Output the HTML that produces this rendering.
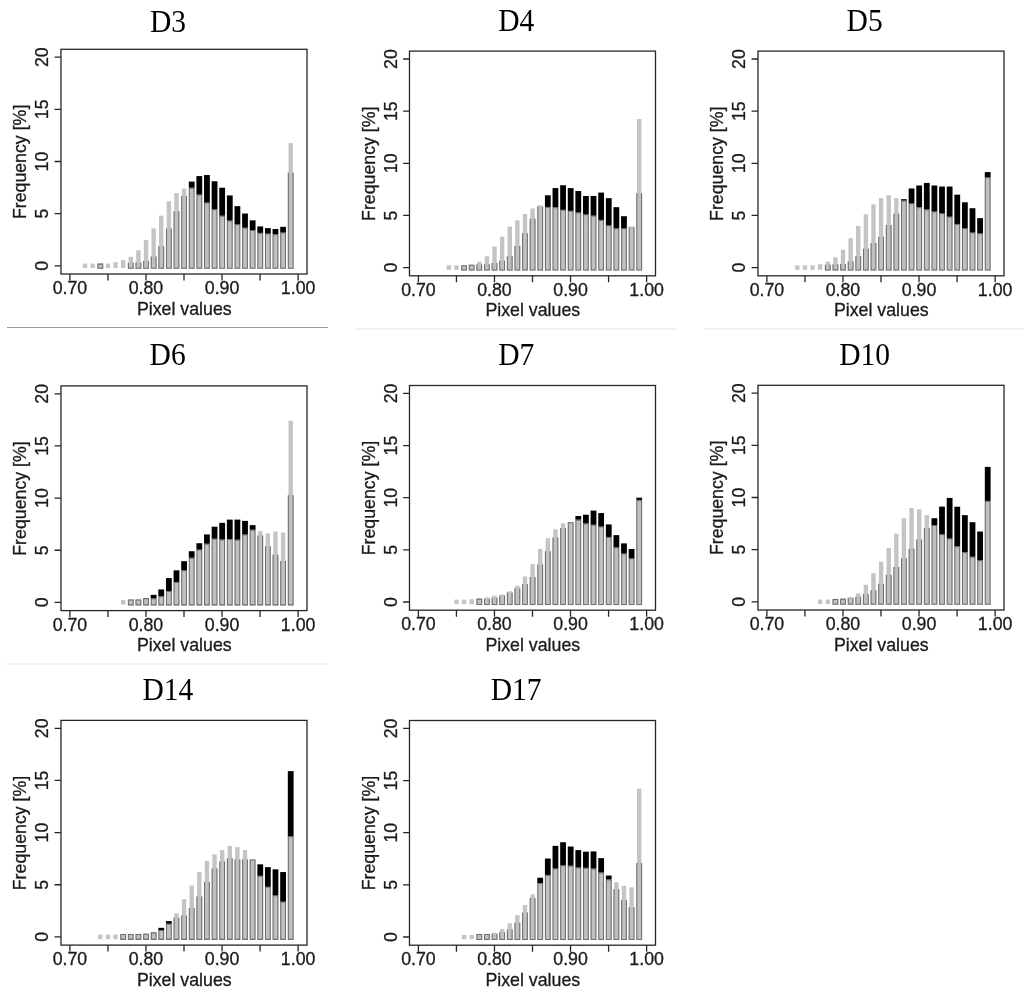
<!DOCTYPE html>
<html lang="en"><head><meta charset="utf-8"><title>Pixel value histograms</title>
<style>html,body{margin:0;padding:0;background:#fff}body{width:1024px;height:1007px;overflow:hidden}svg{display:block}.s{font-family:"Liberation Sans",sans-serif;font-size:17.75px;fill:#1a1a1a;stroke:#1a1a1a;stroke-width:0.3}.t{font-family:"Liberation Serif",serif;font-size:29.5px;fill:#000}.l{stroke:#262626;stroke-width:1.3;fill:none}.a{fill:#c4c4c4}.g{fill:#c0c0c0}.o{fill:none;stroke:#707070;stroke-width:1.05}.k{fill:#000}</style></head><body>
<svg width="1024" height="1007" viewBox="0 0 1024 1007">
<rect width="1024" height="1007" fill="#fff"/>
<line x1="7" y1="327.5" x2="328" y2="327.5" stroke="#9a9a9a" stroke-width="1"/>
<line x1="355" y1="329" x2="677" y2="329" stroke="#e4e4e4" stroke-width="1"/>
<line x1="704" y1="329" x2="1024" y2="329" stroke="#e4e4e4" stroke-width="1"/>
<line x1="7" y1="664" x2="328" y2="664" stroke="#e4e4e4" stroke-width="1"/>
<g transform="translate(0,0)">
<g class="a"><rect x="82.9" y="263.61" width="4.4" height="4.39"/><rect x="90.51" y="263.61" width="4.4" height="4.39"/><rect x="98.13" y="263.61" width="4.4" height="4.39"/><rect x="105.74" y="263.61" width="4.4" height="4.39"/><rect x="113.36" y="262.19" width="4.4" height="5.81"/><rect x="120.97" y="259.99" width="4.4" height="8.01"/><rect x="128.59" y="256.76" width="4.4" height="11.24"/><rect x="136.21" y="250.31" width="4.4" height="17.69"/><rect x="143.82" y="239.98" width="4.4" height="28.02"/><rect x="151.44" y="228.36" width="4.4" height="39.64"/><rect x="159.05" y="215.71" width="4.4" height="52.29"/><rect x="166.67" y="201.25" width="4.4" height="66.75"/><rect x="174.28" y="193.12" width="4.4" height="74.88"/><rect x="181.9" y="188.6" width="4.4" height="79.4"/><rect x="189.51" y="187.7" width="4.4" height="80.3"/><rect x="197.12" y="194.54" width="4.4" height="73.46"/><rect x="204.74" y="202.54" width="4.4" height="65.46"/><rect x="212.36" y="209.25" width="4.4" height="58.75"/><rect x="219.97" y="215.71" width="4.4" height="52.29"/><rect x="227.59" y="220.36" width="4.4" height="47.64"/><rect x="235.2" y="224.23" width="4.4" height="43.77"/><rect x="242.81" y="227.72" width="4.4" height="40.28"/><rect x="250.43" y="230.04" width="4.4" height="37.96"/><rect x="258.05" y="232.88" width="4.4" height="35.12"/><rect x="265.66" y="233.53" width="4.4" height="34.47"/><rect x="273.28" y="234.17" width="4.4" height="33.83"/><rect x="280.89" y="232.49" width="4.4" height="35.51"/><rect x="288.51" y="143.1" width="4.4" height="124.9"/></g>
<g class="g"><rect x="97.43" y="263.61" width="5.8" height="5.19"/><rect x="127.89" y="262.83" width="5.8" height="5.97"/><rect x="135.5" y="262.57" width="5.8" height="6.23"/><rect x="143.12" y="260.89" width="5.8" height="7.91"/><rect x="150.73" y="256.5" width="5.8" height="12.3"/><rect x="158.35" y="246.18" width="5.8" height="22.62"/><rect x="165.97" y="228.62" width="5.8" height="40.18"/><rect x="173.58" y="211.19" width="5.8" height="57.61"/><rect x="181.19" y="196.09" width="5.8" height="72.71"/><rect x="188.81" y="187.7" width="5.8" height="81.1"/><rect x="196.42" y="194.54" width="5.8" height="74.26"/><rect x="204.04" y="202.54" width="5.8" height="66.26"/><rect x="211.66" y="209.25" width="5.8" height="59.55"/><rect x="219.27" y="215.71" width="5.8" height="53.09"/><rect x="226.88" y="220.36" width="5.8" height="48.44"/><rect x="234.5" y="224.23" width="5.8" height="44.57"/><rect x="242.11" y="227.72" width="5.8" height="41.08"/><rect x="249.73" y="230.04" width="5.8" height="38.76"/><rect x="257.35" y="232.88" width="5.8" height="35.92"/><rect x="264.96" y="233.53" width="5.8" height="35.27"/><rect x="272.58" y="234.17" width="5.8" height="34.63"/><rect x="280.19" y="232.49" width="5.8" height="36.31"/><rect x="287.81" y="172.85" width="5.8" height="95.95"/></g>
<path class="o" d="M97.95 264.13V268.28H102.7V264.13zM128.41 262.83V268.28H133.16V262.83M136.03 262.57V268.28H140.78V262.57M143.64 260.89V268.28H148.39V260.89M151.26 256.5V268.28H156.01V256.5M158.88 246.18V268.28H163.62V246.18M166.49 228.62V268.28H171.24V228.62M174.1 211.19V268.28H178.85V211.19M181.72 196.09V268.28H186.47V196.09M189.33 188.22V268.28H194.08V188.22zM196.95 195.06V268.28H201.7V195.06zM204.56 203.07V268.28H209.31V203.07zM212.18 209.78V268.28H216.93V209.78zM219.79 216.23V268.28H224.54V216.23zM227.41 220.88V268.28H232.16V220.88zM235.03 224.76V268.28H239.78V224.76zM242.64 228.24V268.28H247.39V228.24zM250.25 230.56V268.28H255V230.56zM257.87 233.4V268.28H262.62V233.4zM265.49 234.05V268.28H270.24V234.05zM273.1 234.7V268.28H277.85V234.7zM280.72 233.02V268.28H285.47V233.02zM288.33 172.85V268.28H293.08V172.85"/>
<g class="k"><rect x="188.81" y="181.63" width="5.8" height="6.07"/><rect x="196.42" y="176.08" width="5.8" height="18.46"/><rect x="204.04" y="175.04" width="5.8" height="27.5"/><rect x="211.66" y="181.24" width="5.8" height="28.01"/><rect x="219.27" y="187.7" width="5.8" height="28.01"/><rect x="226.88" y="195.44" width="5.8" height="24.92"/><rect x="234.5" y="206.16" width="5.8" height="18.07"/><rect x="242.11" y="213.51" width="5.8" height="14.2"/><rect x="249.73" y="220.36" width="5.8" height="9.68"/><rect x="257.35" y="226.42" width="5.8" height="6.45"/><rect x="264.96" y="228.1" width="5.8" height="5.42"/><rect x="272.58" y="229.01" width="5.8" height="5.16"/><rect x="280.19" y="226.81" width="5.8" height="5.68"/></g>
<rect class="l" x="60.98" y="49.3" width="246.02" height="224.7"/>
<path class="l" d="M69.9 274v6.5M107.94 274v6.5M145.97 274v6.5M184 274v6.5M222.04 274v6.5M260.08 274v6.5M298.11 274v6.5M60.98 265.8h-6.4M60.98 213.65h-6.4M60.98 161.5h-6.4M60.98 109.35h-6.4M60.98 57.2h-6.4"/>
<text class="s" x="69.9" y="294" text-anchor="middle">0.70</text>
<text class="s" x="145.97" y="294" text-anchor="middle">0.80</text>
<text class="s" x="222.04" y="294" text-anchor="middle">0.90</text>
<text class="s" x="298.11" y="294" text-anchor="middle">1.00</text>
<text class="s" transform="translate(48.2,265.8) rotate(-90)" text-anchor="middle">0</text>
<text class="s" transform="translate(48.2,213.65) rotate(-90)" text-anchor="middle">5</text>
<text class="s" transform="translate(48.2,161.5) rotate(-90)" text-anchor="middle">10</text>
<text class="s" transform="translate(48.2,109.35) rotate(-90)" text-anchor="middle">15</text>
<text class="s" transform="translate(48.2,57.2) rotate(-90)" text-anchor="middle">20</text>
<text class="s" x="184.3" y="314.7" text-anchor="middle">Pixel values</text>
<text class="s" transform="translate(26.2,161.9) rotate(-90)" text-anchor="middle">Frequency [%]</text>
</g>
<g transform="translate(348.5,1.8)">
<g class="a"><rect x="98.13" y="263.48" width="4.4" height="4.52"/><rect x="105.74" y="263.48" width="4.4" height="4.52"/><rect x="113.36" y="263.48" width="4.4" height="4.52"/><rect x="120.97" y="262.96" width="4.4" height="5.04"/><rect x="128.59" y="259.86" width="4.4" height="8.14"/><rect x="136.21" y="254.44" width="4.4" height="13.56"/><rect x="143.82" y="244.76" width="4.4" height="23.24"/><rect x="151.44" y="234.82" width="4.4" height="33.18"/><rect x="159.05" y="224.75" width="4.4" height="43.25"/><rect x="166.67" y="218.55" width="4.4" height="49.45"/><rect x="174.28" y="212.22" width="4.4" height="55.78"/><rect x="181.9" y="206.67" width="4.4" height="61.33"/><rect x="189.51" y="203.45" width="4.4" height="64.55"/><rect x="197.12" y="205.12" width="4.4" height="62.88"/><rect x="204.74" y="205.38" width="4.4" height="62.62"/><rect x="212.36" y="207.96" width="4.4" height="60.04"/><rect x="219.97" y="209" width="4.4" height="59"/><rect x="227.59" y="210.55" width="4.4" height="57.45"/><rect x="235.2" y="212.48" width="4.4" height="55.52"/><rect x="242.81" y="213.77" width="4.4" height="54.23"/><rect x="250.43" y="218.03" width="4.4" height="49.97"/><rect x="258.05" y="223.46" width="4.4" height="44.54"/><rect x="265.66" y="226.42" width="4.4" height="41.58"/><rect x="273.28" y="226.42" width="4.4" height="41.58"/><rect x="280.89" y="224.62" width="4.4" height="43.38"/><rect x="288.51" y="117.2" width="4.4" height="150.8"/></g>
<g class="g"><rect x="112.66" y="263.48" width="5.8" height="5.32"/><rect x="120.27" y="262.96" width="5.8" height="5.84"/><rect x="127.89" y="262.57" width="5.8" height="6.23"/><rect x="135.5" y="262.44" width="5.8" height="6.36"/><rect x="143.12" y="261.28" width="5.8" height="7.52"/><rect x="150.73" y="258.96" width="5.8" height="9.84"/><rect x="158.35" y="254.44" width="5.8" height="14.36"/><rect x="165.97" y="244.11" width="5.8" height="24.69"/><rect x="173.58" y="231.46" width="5.8" height="37.34"/><rect x="181.19" y="217" width="5.8" height="51.8"/><rect x="188.81" y="204.74" width="5.8" height="64.06"/><rect x="196.42" y="205.12" width="5.8" height="63.68"/><rect x="204.04" y="205.38" width="5.8" height="63.42"/><rect x="211.66" y="207.96" width="5.8" height="60.84"/><rect x="219.27" y="209" width="5.8" height="59.8"/><rect x="226.88" y="210.55" width="5.8" height="58.25"/><rect x="234.5" y="212.48" width="5.8" height="56.32"/><rect x="242.11" y="213.77" width="5.8" height="55.03"/><rect x="249.73" y="218.03" width="5.8" height="50.77"/><rect x="257.35" y="223.46" width="5.8" height="45.34"/><rect x="264.96" y="226.42" width="5.8" height="42.38"/><rect x="272.58" y="226.42" width="5.8" height="42.38"/><rect x="280.19" y="225.39" width="5.8" height="43.41"/><rect x="287.81" y="191.4" width="5.8" height="77.4"/></g>
<path class="o" d="M113.19 264V268.28H117.94V264zM120.8 263.48V268.28H125.55V263.48zM128.41 262.57V268.28H133.16V262.57M136.03 262.44V268.28H140.78V262.44M143.64 261.28V268.28H148.39V261.28M151.26 258.96V268.28H156.01V258.96M158.88 254.44V268.28H163.62V254.44M166.49 244.11V268.28H171.24V244.11M174.1 231.46V268.28H178.85V231.46M181.72 217V268.28H186.47V217M189.33 204.74V268.28H194.08V204.74M196.95 205.65V268.28H201.7V205.65zM204.56 205.91V268.28H209.31V205.91zM212.18 208.49V268.28H216.93V208.49zM219.79 209.52V268.28H224.54V209.52zM227.41 211.07V268.28H232.16V211.07zM235.03 213.01V268.28H239.78V213.01zM242.64 214.3V268.28H247.39V214.3zM250.25 218.56V268.28H255V218.56zM257.87 223.98V268.28H262.62V223.98zM265.49 226.95V268.28H270.24V226.95zM273.1 226.95V268.28H277.85V226.95zM280.72 225.39V268.28H285.47V225.39M288.33 191.4V268.28H293.08V191.4"/>
<g class="k"><rect x="196.42" y="193.5" width="5.8" height="11.62"/><rect x="204.04" y="186.28" width="5.8" height="19.11"/><rect x="211.66" y="183.43" width="5.8" height="24.53"/><rect x="219.27" y="186.28" width="5.8" height="22.72"/><rect x="226.88" y="189.24" width="5.8" height="21.3"/><rect x="234.5" y="194.15" width="5.8" height="18.33"/><rect x="242.11" y="194.15" width="5.8" height="19.62"/><rect x="249.73" y="190.79" width="5.8" height="27.24"/><rect x="257.35" y="196.34" width="5.8" height="27.11"/><rect x="264.96" y="205.38" width="5.8" height="21.04"/><rect x="272.58" y="214.42" width="5.8" height="12.01"/></g>
<rect class="l" x="60.98" y="49.3" width="246.02" height="224.7"/>
<path class="l" d="M69.9 274v6.5M107.94 274v6.5M145.97 274v6.5M184 274v6.5M222.04 274v6.5M260.08 274v6.5M298.11 274v6.5M60.98 265.8h-6.4M60.98 213.65h-6.4M60.98 161.5h-6.4M60.98 109.35h-6.4M60.98 57.2h-6.4"/>
<text class="s" x="69.9" y="294" text-anchor="middle">0.70</text>
<text class="s" x="145.97" y="294" text-anchor="middle">0.80</text>
<text class="s" x="222.04" y="294" text-anchor="middle">0.90</text>
<text class="s" x="298.11" y="294" text-anchor="middle">1.00</text>
<text class="s" transform="translate(48.2,265.8) rotate(-90)" text-anchor="middle">0</text>
<text class="s" transform="translate(48.2,213.65) rotate(-90)" text-anchor="middle">5</text>
<text class="s" transform="translate(48.2,161.5) rotate(-90)" text-anchor="middle">10</text>
<text class="s" transform="translate(48.2,109.35) rotate(-90)" text-anchor="middle">15</text>
<text class="s" transform="translate(48.2,57.2) rotate(-90)" text-anchor="middle">20</text>
<text class="s" x="184.3" y="314.7" text-anchor="middle">Pixel values</text>
<text class="s" transform="translate(26.2,161.9) rotate(-90)" text-anchor="middle">Frequency [%]</text>
</g>
<g transform="translate(697,1.8)">
<g class="a"><rect x="98.13" y="263.48" width="4.4" height="4.52"/><rect x="105.74" y="263.48" width="4.4" height="4.52"/><rect x="113.36" y="263.48" width="4.4" height="4.52"/><rect x="120.97" y="262.44" width="4.4" height="5.56"/><rect x="128.59" y="259.86" width="4.4" height="8.14"/><rect x="136.21" y="255.47" width="4.4" height="12.53"/><rect x="143.82" y="247.98" width="4.4" height="20.02"/><rect x="151.44" y="236.37" width="4.4" height="31.63"/><rect x="159.05" y="224.1" width="4.4" height="43.9"/><rect x="166.67" y="212.48" width="4.4" height="55.52"/><rect x="174.28" y="202.54" width="4.4" height="65.46"/><rect x="181.9" y="196.34" width="4.4" height="71.66"/><rect x="189.51" y="193.5" width="4.4" height="74.5"/><rect x="197.12" y="196.34" width="4.4" height="71.66"/><rect x="204.74" y="198.67" width="4.4" height="69.33"/><rect x="212.36" y="201.51" width="4.4" height="66.49"/><rect x="219.97" y="205.38" width="4.4" height="62.62"/><rect x="227.59" y="207.58" width="4.4" height="60.42"/><rect x="235.2" y="209.64" width="4.4" height="58.36"/><rect x="242.81" y="211.45" width="4.4" height="56.55"/><rect x="250.43" y="214.81" width="4.4" height="53.19"/><rect x="258.05" y="222.16" width="4.4" height="45.84"/><rect x="265.66" y="226.42" width="4.4" height="41.58"/><rect x="273.28" y="230.56" width="4.4" height="37.44"/><rect x="280.89" y="231.46" width="4.4" height="36.54"/><rect x="288.51" y="175.43" width="4.4" height="92.57"/></g>
<g class="g"><rect x="127.89" y="262.83" width="5.8" height="5.97"/><rect x="135.5" y="262.57" width="5.8" height="6.23"/><rect x="143.12" y="262.19" width="5.8" height="6.61"/><rect x="150.73" y="259.6" width="5.8" height="9.2"/><rect x="158.35" y="254.44" width="5.8" height="14.36"/><rect x="165.97" y="246.95" width="5.8" height="21.85"/><rect x="173.58" y="241.27" width="5.8" height="27.53"/><rect x="181.19" y="235.07" width="5.8" height="33.73"/><rect x="188.81" y="223.2" width="5.8" height="45.6"/><rect x="196.42" y="211.84" width="5.8" height="56.96"/><rect x="204.04" y="198.67" width="5.8" height="70.13"/><rect x="211.66" y="201.51" width="5.8" height="67.29"/><rect x="219.27" y="205.38" width="5.8" height="63.42"/><rect x="226.88" y="207.58" width="5.8" height="61.22"/><rect x="234.5" y="209.64" width="5.8" height="59.16"/><rect x="242.11" y="211.45" width="5.8" height="57.35"/><rect x="249.73" y="214.81" width="5.8" height="53.99"/><rect x="257.35" y="222.16" width="5.8" height="46.64"/><rect x="264.96" y="226.42" width="5.8" height="42.38"/><rect x="272.58" y="230.56" width="5.8" height="38.24"/><rect x="280.19" y="231.46" width="5.8" height="37.34"/><rect x="287.81" y="175.43" width="5.8" height="93.37"/></g>
<path class="o" d="M128.41 262.83V268.28H133.16V262.83M136.03 262.57V268.28H140.78V262.57M143.64 262.19V268.28H148.39V262.19M151.26 259.6V268.28H156.01V259.6M158.88 254.44V268.28H163.62V254.44M166.49 246.95V268.28H171.24V246.95M174.1 241.27V268.28H178.85V241.27M181.72 235.07V268.28H186.47V235.07M189.33 223.2V268.28H194.08V223.2M196.95 211.84V268.28H201.7V211.84M204.56 199.19V268.28H209.31V199.19zM212.18 202.03V268.28H216.93V202.03zM219.79 205.91V268.28H224.54V205.91zM227.41 208.1V268.28H232.16V208.1zM235.03 210.17V268.28H239.78V210.17zM242.64 211.97V268.28H247.39V211.97zM250.25 215.33V268.28H255V215.33zM257.87 222.69V268.28H262.62V222.69zM265.49 226.95V268.28H270.24V226.95zM273.1 231.08V268.28H277.85V231.08zM280.72 231.98V268.28H285.47V231.98zM288.33 175.96V268.28H293.08V175.96z"/>
<g class="k"><rect x="204.04" y="197.38" width="5.8" height="1.29"/><rect x="211.66" y="186.66" width="5.8" height="14.85"/><rect x="219.27" y="183.69" width="5.8" height="21.69"/><rect x="226.88" y="181.11" width="5.8" height="26.47"/><rect x="234.5" y="183.69" width="5.8" height="25.95"/><rect x="242.11" y="184.73" width="5.8" height="26.72"/><rect x="249.73" y="184.73" width="5.8" height="30.08"/><rect x="257.35" y="192.86" width="5.8" height="29.31"/><rect x="264.96" y="200.48" width="5.8" height="25.95"/><rect x="272.58" y="206.41" width="5.8" height="24.14"/><rect x="280.19" y="216.36" width="5.8" height="15.1"/><rect x="287.81" y="170.27" width="5.8" height="5.16"/></g>
<rect class="l" x="60.98" y="49.3" width="246.02" height="224.7"/>
<path class="l" d="M69.9 274v6.5M107.94 274v6.5M145.97 274v6.5M184 274v6.5M222.04 274v6.5M260.08 274v6.5M298.11 274v6.5M60.98 265.8h-6.4M60.98 213.65h-6.4M60.98 161.5h-6.4M60.98 109.35h-6.4M60.98 57.2h-6.4"/>
<text class="s" x="69.9" y="294" text-anchor="middle">0.70</text>
<text class="s" x="145.97" y="294" text-anchor="middle">0.80</text>
<text class="s" x="222.04" y="294" text-anchor="middle">0.90</text>
<text class="s" x="298.11" y="294" text-anchor="middle">1.00</text>
<text class="s" transform="translate(48.2,265.8) rotate(-90)" text-anchor="middle">0</text>
<text class="s" transform="translate(48.2,213.65) rotate(-90)" text-anchor="middle">5</text>
<text class="s" transform="translate(48.2,161.5) rotate(-90)" text-anchor="middle">10</text>
<text class="s" transform="translate(48.2,109.35) rotate(-90)" text-anchor="middle">15</text>
<text class="s" transform="translate(48.2,57.2) rotate(-90)" text-anchor="middle">20</text>
<text class="s" x="184.3" y="314.7" text-anchor="middle">Pixel values</text>
<text class="s" transform="translate(26.2,161.9) rotate(-90)" text-anchor="middle">Frequency [%]</text>
</g>
<g transform="translate(0,336.6)">
<g class="a"><rect x="120.97" y="263.42" width="4.4" height="4.58"/><rect x="128.59" y="262.78" width="4.4" height="5.22"/><rect x="136.21" y="262.78" width="4.4" height="5.22"/><rect x="143.82" y="261.49" width="4.4" height="6.51"/><rect x="151.44" y="261.49" width="4.4" height="6.51"/><rect x="159.05" y="259.55" width="4.4" height="8.45"/><rect x="166.67" y="254.39" width="4.4" height="13.61"/><rect x="174.28" y="245.35" width="4.4" height="22.65"/><rect x="181.9" y="233.6" width="4.4" height="34.4"/><rect x="189.51" y="221.08" width="4.4" height="46.92"/><rect x="197.12" y="212.95" width="4.4" height="55.05"/><rect x="204.74" y="207.14" width="4.4" height="60.86"/><rect x="212.36" y="201.97" width="4.4" height="66.03"/><rect x="219.97" y="202.75" width="4.4" height="65.25"/><rect x="227.59" y="202.36" width="4.4" height="65.64"/><rect x="235.2" y="203.01" width="4.4" height="64.99"/><rect x="242.81" y="197.84" width="4.4" height="70.16"/><rect x="250.43" y="193.07" width="4.4" height="74.93"/><rect x="258.05" y="194.36" width="4.4" height="73.64"/><rect x="265.66" y="196.81" width="4.4" height="71.19"/><rect x="273.28" y="195" width="4.4" height="73"/><rect x="280.89" y="195.91" width="4.4" height="72.09"/><rect x="288.51" y="84.1" width="4.4" height="183.9"/></g>
<g class="g"><rect x="127.89" y="262.78" width="5.8" height="6.02"/><rect x="135.5" y="262.78" width="5.8" height="6.02"/><rect x="143.12" y="261.49" width="5.8" height="7.31"/><rect x="150.73" y="261.49" width="5.8" height="7.31"/><rect x="158.35" y="259.55" width="5.8" height="9.25"/><rect x="165.97" y="254.39" width="5.8" height="14.41"/><rect x="173.58" y="245.35" width="5.8" height="23.45"/><rect x="181.19" y="233.6" width="5.8" height="35.2"/><rect x="188.81" y="221.08" width="5.8" height="47.72"/><rect x="196.42" y="212.95" width="5.8" height="55.85"/><rect x="204.04" y="207.14" width="5.8" height="61.66"/><rect x="211.66" y="201.97" width="5.8" height="66.83"/><rect x="219.27" y="202.75" width="5.8" height="66.05"/><rect x="226.88" y="202.36" width="5.8" height="66.44"/><rect x="234.5" y="203.01" width="5.8" height="65.79"/><rect x="242.11" y="197.84" width="5.8" height="70.96"/><rect x="249.73" y="193.07" width="5.8" height="75.73"/><rect x="257.35" y="198.88" width="5.8" height="69.92"/><rect x="264.96" y="209.72" width="5.8" height="59.08"/><rect x="272.58" y="218.24" width="5.8" height="50.56"/><rect x="280.19" y="224.31" width="5.8" height="44.49"/><rect x="287.81" y="158.6" width="5.8" height="110.2"/></g>
<path class="o" d="M128.41 263.3V268.28H133.16V263.3zM136.03 263.3V268.28H140.78V263.3zM143.64 262.01V268.28H148.39V262.01zM151.26 262.01V268.28H156.01V262.01zM158.88 260.08V268.28H163.62V260.08zM166.49 254.91V268.28H171.24V254.91zM174.1 245.88V268.28H178.85V245.88zM181.72 234.13V268.28H186.47V234.13zM189.33 221.61V268.28H194.08V221.61zM196.95 213.47V268.28H201.7V213.47zM204.56 207.66V268.28H209.31V207.66zM212.18 202.5V268.28H216.93V202.5zM219.79 203.27V268.28H224.54V203.27zM227.41 202.89V268.28H232.16V202.89zM235.03 203.53V268.28H239.78V203.53zM242.64 198.37V268.28H247.39V198.37zM250.25 193.59V268.28H255V193.59zM257.87 198.88V268.28H262.62V198.88M265.49 209.72V268.28H270.24V209.72M273.1 218.24V268.28H277.85V218.24M280.72 224.31V268.28H285.47V224.31M288.33 158.6V268.28H293.08V158.6"/>
<g class="k"><rect x="150.73" y="258.26" width="5.8" height="3.23"/><rect x="158.35" y="252.84" width="5.8" height="6.71"/><rect x="165.97" y="241.48" width="5.8" height="12.91"/><rect x="173.58" y="233.73" width="5.8" height="11.62"/><rect x="181.19" y="224.57" width="5.8" height="9.04"/><rect x="188.81" y="214.63" width="5.8" height="6.45"/><rect x="196.42" y="206.62" width="5.8" height="6.33"/><rect x="204.04" y="197.84" width="5.8" height="9.3"/><rect x="211.66" y="190.1" width="5.8" height="11.88"/><rect x="219.27" y="186.22" width="5.8" height="16.52"/><rect x="226.88" y="183" width="5.8" height="19.36"/><rect x="234.5" y="183" width="5.8" height="20.01"/><rect x="242.11" y="184.29" width="5.8" height="13.56"/><rect x="249.73" y="188.55" width="5.8" height="4.52"/></g>
<rect class="l" x="60.98" y="49.3" width="246.02" height="224.7"/>
<path class="l" d="M69.9 274v6.5M107.94 274v6.5M145.97 274v6.5M184 274v6.5M222.04 274v6.5M260.08 274v6.5M298.11 274v6.5M60.98 265.8h-6.4M60.98 213.65h-6.4M60.98 161.5h-6.4M60.98 109.35h-6.4M60.98 57.2h-6.4"/>
<text class="s" x="69.9" y="294" text-anchor="middle">0.70</text>
<text class="s" x="145.97" y="294" text-anchor="middle">0.80</text>
<text class="s" x="222.04" y="294" text-anchor="middle">0.90</text>
<text class="s" x="298.11" y="294" text-anchor="middle">1.00</text>
<text class="s" transform="translate(48.2,265.8) rotate(-90)" text-anchor="middle">0</text>
<text class="s" transform="translate(48.2,213.65) rotate(-90)" text-anchor="middle">5</text>
<text class="s" transform="translate(48.2,161.5) rotate(-90)" text-anchor="middle">10</text>
<text class="s" transform="translate(48.2,109.35) rotate(-90)" text-anchor="middle">15</text>
<text class="s" transform="translate(48.2,57.2) rotate(-90)" text-anchor="middle">20</text>
<text class="s" x="184.3" y="314.7" text-anchor="middle">Pixel values</text>
<text class="s" transform="translate(26.2,161.9) rotate(-90)" text-anchor="middle">Frequency [%]</text>
</g>
<g transform="translate(348.5,336.2)">
<g class="a"><rect x="105.74" y="263.48" width="4.4" height="4.52"/><rect x="113.36" y="263.48" width="4.4" height="4.52"/><rect x="120.97" y="263.09" width="4.4" height="4.91"/><rect x="128.59" y="262.19" width="4.4" height="5.81"/><rect x="136.21" y="261.15" width="4.4" height="6.85"/><rect x="143.82" y="259.47" width="4.4" height="8.53"/><rect x="151.44" y="258.18" width="4.4" height="9.82"/><rect x="159.05" y="255.08" width="4.4" height="12.92"/><rect x="166.67" y="249.53" width="4.4" height="18.47"/><rect x="174.28" y="240.24" width="4.4" height="27.76"/><rect x="181.9" y="227.97" width="4.4" height="40.03"/><rect x="189.51" y="212.74" width="4.4" height="55.26"/><rect x="197.12" y="202.03" width="4.4" height="65.97"/><rect x="204.74" y="193.12" width="4.4" height="74.88"/><rect x="212.36" y="186.92" width="4.4" height="81.08"/><rect x="219.97" y="186.02" width="4.4" height="81.98"/><rect x="227.59" y="183.43" width="4.4" height="84.57"/><rect x="235.2" y="187.18" width="4.4" height="80.82"/><rect x="242.81" y="188.47" width="4.4" height="79.53"/><rect x="250.43" y="190.15" width="4.4" height="77.85"/><rect x="258.05" y="200.73" width="4.4" height="67.27"/><rect x="265.66" y="211.06" width="4.4" height="56.94"/><rect x="273.28" y="217.26" width="4.4" height="50.74"/><rect x="280.89" y="222.04" width="4.4" height="45.96"/><rect x="288.51" y="163.68" width="4.4" height="104.32"/></g>
<g class="g"><rect x="127.89" y="262.44" width="5.8" height="6.36"/><rect x="135.5" y="262.44" width="5.8" height="6.36"/><rect x="143.12" y="261.54" width="5.8" height="7.26"/><rect x="150.73" y="259.22" width="5.8" height="9.58"/><rect x="158.35" y="256.38" width="5.8" height="12.42"/><rect x="165.97" y="252.12" width="5.8" height="16.68"/><rect x="173.58" y="247.86" width="5.8" height="20.94"/><rect x="181.19" y="240.88" width="5.8" height="27.92"/><rect x="188.81" y="228.23" width="5.8" height="40.57"/><rect x="196.42" y="215.06" width="5.8" height="53.74"/><rect x="204.04" y="201.38" width="5.8" height="67.42"/><rect x="211.66" y="191.83" width="5.8" height="76.97"/><rect x="219.27" y="186.02" width="5.8" height="82.78"/><rect x="226.88" y="183.43" width="5.8" height="85.37"/><rect x="234.5" y="187.18" width="5.8" height="81.62"/><rect x="242.11" y="188.47" width="5.8" height="80.33"/><rect x="249.73" y="190.15" width="5.8" height="78.65"/><rect x="257.35" y="200.73" width="5.8" height="68.07"/><rect x="264.96" y="211.06" width="5.8" height="57.74"/><rect x="272.58" y="217.26" width="5.8" height="51.54"/><rect x="280.19" y="222.04" width="5.8" height="46.76"/><rect x="287.81" y="163.68" width="5.8" height="105.12"/></g>
<path class="o" d="M128.41 262.97V268.28H133.16V262.97zM136.03 262.44V268.28H140.78V262.44M143.64 261.54V268.28H148.39V261.54M151.26 259.22V268.28H156.01V259.22M158.88 256.38V268.28H163.62V256.38M166.49 252.12V268.28H171.24V252.12M174.1 247.86V268.28H178.85V247.86M181.72 240.88V268.28H186.47V240.88M189.33 228.23V268.28H194.08V228.23M196.95 215.06V268.28H201.7V215.06M204.56 201.38V268.28H209.31V201.38M212.18 191.83V268.28H216.93V191.83M219.79 186.54V268.28H224.54V186.54zM227.41 183.96V268.28H232.16V183.96zM235.03 187.7V268.28H239.78V187.7zM242.64 188.99V268.28H247.39V188.99zM250.25 190.67V268.28H255V190.67zM257.87 201.26V268.28H262.62V201.26zM265.49 211.59V268.28H270.24V211.59zM273.1 217.78V268.28H277.85V217.78zM280.72 222.56V268.28H285.47V222.56zM288.33 164.21V268.28H293.08V164.21z"/>
<g class="k"><rect x="226.88" y="179.82" width="5.8" height="3.61"/><rect x="234.5" y="178.53" width="5.8" height="8.65"/><rect x="242.11" y="174.4" width="5.8" height="14.07"/><rect x="249.73" y="176.85" width="5.8" height="13.3"/><rect x="257.35" y="188.21" width="5.8" height="12.52"/><rect x="264.96" y="198.93" width="5.8" height="12.14"/><rect x="272.58" y="207.19" width="5.8" height="10.07"/><rect x="280.19" y="212.74" width="5.8" height="9.3"/><rect x="287.81" y="161.49" width="5.8" height="2.19"/></g>
<rect class="l" x="60.98" y="49.3" width="246.02" height="224.7"/>
<path class="l" d="M69.9 274v6.5M107.94 274v6.5M145.97 274v6.5M184 274v6.5M222.04 274v6.5M260.08 274v6.5M298.11 274v6.5M60.98 265.8h-6.4M60.98 213.65h-6.4M60.98 161.5h-6.4M60.98 109.35h-6.4M60.98 57.2h-6.4"/>
<text class="s" x="69.9" y="294" text-anchor="middle">0.70</text>
<text class="s" x="145.97" y="294" text-anchor="middle">0.80</text>
<text class="s" x="222.04" y="294" text-anchor="middle">0.90</text>
<text class="s" x="298.11" y="294" text-anchor="middle">1.00</text>
<text class="s" transform="translate(48.2,265.8) rotate(-90)" text-anchor="middle">0</text>
<text class="s" transform="translate(48.2,213.65) rotate(-90)" text-anchor="middle">5</text>
<text class="s" transform="translate(48.2,161.5) rotate(-90)" text-anchor="middle">10</text>
<text class="s" transform="translate(48.2,109.35) rotate(-90)" text-anchor="middle">15</text>
<text class="s" transform="translate(48.2,57.2) rotate(-90)" text-anchor="middle">20</text>
<text class="s" x="184.3" y="314.7" text-anchor="middle">Pixel values</text>
<text class="s" transform="translate(26.2,161.9) rotate(-90)" text-anchor="middle">Frequency [%]</text>
</g>
<g transform="translate(697,336)">
<g class="a"><rect x="120.97" y="263.54" width="4.4" height="4.46"/><rect x="128.59" y="263.54" width="4.4" height="4.46"/><rect x="136.21" y="262.9" width="4.4" height="5.1"/><rect x="143.82" y="262.38" width="4.4" height="5.62"/><rect x="151.44" y="260.96" width="4.4" height="7.04"/><rect x="159.05" y="257.47" width="4.4" height="10.53"/><rect x="166.67" y="248.82" width="4.4" height="19.18"/><rect x="174.28" y="237.2" width="4.4" height="30.8"/><rect x="181.9" y="225.59" width="4.4" height="42.41"/><rect x="189.51" y="212.03" width="4.4" height="55.97"/><rect x="197.12" y="197.7" width="4.4" height="70.3"/><rect x="204.74" y="182.21" width="4.4" height="85.79"/><rect x="212.36" y="172.01" width="4.4" height="95.99"/><rect x="219.97" y="173.3" width="4.4" height="94.7"/><rect x="227.59" y="179.11" width="4.4" height="88.89"/><rect x="235.2" y="189.05" width="4.4" height="78.95"/><rect x="242.81" y="198.09" width="4.4" height="69.91"/><rect x="250.43" y="202.35" width="4.4" height="65.65"/><rect x="258.05" y="210.09" width="4.4" height="57.91"/><rect x="265.66" y="216.16" width="4.4" height="51.84"/><rect x="273.28" y="220.68" width="4.4" height="47.32"/><rect x="280.89" y="224.17" width="4.4" height="43.83"/><rect x="288.51" y="164.9" width="4.4" height="103.1"/></g>
<g class="g"><rect x="135.5" y="262.9" width="5.8" height="5.9"/><rect x="143.12" y="262.64" width="5.8" height="6.16"/><rect x="150.73" y="261.99" width="5.8" height="6.81"/><rect x="158.35" y="260.7" width="5.8" height="8.1"/><rect x="165.97" y="258.12" width="5.8" height="10.68"/><rect x="173.58" y="254.25" width="5.8" height="14.55"/><rect x="181.19" y="247.79" width="5.8" height="21.01"/><rect x="188.81" y="238.75" width="5.8" height="30.05"/><rect x="196.42" y="231.01" width="5.8" height="37.79"/><rect x="204.04" y="222.23" width="5.8" height="46.57"/><rect x="211.66" y="212.68" width="5.8" height="56.12"/><rect x="219.27" y="203.51" width="5.8" height="65.29"/><rect x="226.88" y="192.28" width="5.8" height="76.52"/><rect x="234.5" y="189.05" width="5.8" height="79.75"/><rect x="242.11" y="198.09" width="5.8" height="70.71"/><rect x="249.73" y="202.35" width="5.8" height="66.45"/><rect x="257.35" y="210.09" width="5.8" height="58.71"/><rect x="264.96" y="216.16" width="5.8" height="52.64"/><rect x="272.58" y="220.68" width="5.8" height="48.12"/><rect x="280.19" y="224.17" width="5.8" height="44.63"/><rect x="287.81" y="164.9" width="5.8" height="103.9"/></g>
<path class="o" d="M136.03 263.42V268.28H140.78V263.42zM143.64 263.16V268.28H148.39V263.16zM151.26 261.99V268.28H156.01V261.99M158.88 260.7V268.28H163.62V260.7M166.49 258.12V268.28H171.24V258.12M174.1 254.25V268.28H178.85V254.25M181.72 247.79V268.28H186.47V247.79M189.33 238.75V268.28H194.08V238.75M196.95 231.01V268.28H201.7V231.01M204.56 222.23V268.28H209.31V222.23M212.18 212.68V268.28H216.93V212.68M219.79 203.51V268.28H224.54V203.51M227.41 192.28V268.28H232.16V192.28M235.03 189.58V268.28H239.78V189.58zM242.64 198.61V268.28H247.39V198.61zM250.25 202.87V268.28H255V202.87zM257.87 210.62V268.28H262.62V210.62zM265.49 216.69V268.28H270.24V216.69zM273.1 221.2V268.28H277.85V221.2zM280.72 224.69V268.28H285.47V224.69zM288.33 165.43V268.28H293.08V165.43z"/>
<g class="k"><rect x="234.5" y="182.21" width="5.8" height="6.84"/><rect x="242.11" y="170.59" width="5.8" height="27.5"/><rect x="249.73" y="161.94" width="5.8" height="40.41"/><rect x="257.35" y="170.72" width="5.8" height="39.38"/><rect x="264.96" y="179.11" width="5.8" height="37.05"/><rect x="272.58" y="186.21" width="5.8" height="34.47"/><rect x="280.19" y="195.51" width="5.8" height="28.66"/><rect x="287.81" y="130.9" width="5.8" height="34"/></g>
<rect class="l" x="60.98" y="49.3" width="246.02" height="224.7"/>
<path class="l" d="M69.9 274v6.5M107.94 274v6.5M145.97 274v6.5M184 274v6.5M222.04 274v6.5M260.08 274v6.5M298.11 274v6.5M60.98 265.8h-6.4M60.98 213.65h-6.4M60.98 161.5h-6.4M60.98 109.35h-6.4M60.98 57.2h-6.4"/>
<text class="s" x="69.9" y="294" text-anchor="middle">0.70</text>
<text class="s" x="145.97" y="294" text-anchor="middle">0.80</text>
<text class="s" x="222.04" y="294" text-anchor="middle">0.90</text>
<text class="s" x="298.11" y="294" text-anchor="middle">1.00</text>
<text class="s" transform="translate(48.2,265.8) rotate(-90)" text-anchor="middle">0</text>
<text class="s" transform="translate(48.2,213.65) rotate(-90)" text-anchor="middle">5</text>
<text class="s" transform="translate(48.2,161.5) rotate(-90)" text-anchor="middle">10</text>
<text class="s" transform="translate(48.2,109.35) rotate(-90)" text-anchor="middle">15</text>
<text class="s" transform="translate(48.2,57.2) rotate(-90)" text-anchor="middle">20</text>
<text class="s" x="184.3" y="314.7" text-anchor="middle">Pixel values</text>
<text class="s" transform="translate(26.2,161.9) rotate(-90)" text-anchor="middle">Frequency [%]</text>
</g>
<g transform="translate(0,671.1)">
<g class="a"><rect x="98.13" y="263.57" width="4.4" height="4.43"/><rect x="105.74" y="263.57" width="4.4" height="4.43"/><rect x="113.36" y="263.57" width="4.4" height="4.43"/><rect x="120.97" y="262.92" width="4.4" height="5.08"/><rect x="128.59" y="262.92" width="4.4" height="5.08"/><rect x="136.21" y="262.79" width="4.4" height="5.21"/><rect x="143.82" y="262.53" width="4.4" height="5.47"/><rect x="151.44" y="261.24" width="4.4" height="6.76"/><rect x="159.05" y="258.92" width="4.4" height="9.08"/><rect x="166.67" y="252.59" width="4.4" height="15.41"/><rect x="174.28" y="242.27" width="4.4" height="25.73"/><rect x="181.9" y="228.06" width="4.4" height="39.94"/><rect x="189.51" y="214.51" width="4.4" height="53.49"/><rect x="197.12" y="200.95" width="4.4" height="67.05"/><rect x="204.74" y="189.85" width="4.4" height="78.15"/><rect x="212.36" y="183.4" width="4.4" height="84.6"/><rect x="219.97" y="179.01" width="4.4" height="88.99"/><rect x="227.59" y="175" width="4.4" height="93"/><rect x="235.2" y="176.04" width="4.4" height="91.96"/><rect x="242.81" y="179.01" width="4.4" height="88.99"/><rect x="250.43" y="188.3" width="4.4" height="79.7"/><rect x="258.05" y="204.7" width="4.4" height="63.3"/><rect x="265.66" y="215.67" width="4.4" height="52.33"/><rect x="273.28" y="224.19" width="4.4" height="43.81"/><rect x="280.89" y="230.52" width="4.4" height="37.48"/><rect x="288.51" y="165.1" width="4.4" height="102.9"/></g>
<g class="g"><rect x="120.27" y="262.92" width="5.8" height="5.88"/><rect x="127.89" y="262.92" width="5.8" height="5.88"/><rect x="135.5" y="262.79" width="5.8" height="6.01"/><rect x="143.12" y="262.53" width="5.8" height="6.27"/><rect x="150.73" y="261.24" width="5.8" height="7.56"/><rect x="158.35" y="258.92" width="5.8" height="9.88"/><rect x="165.97" y="252.59" width="5.8" height="16.21"/><rect x="173.58" y="246.65" width="5.8" height="22.15"/><rect x="181.19" y="244.46" width="5.8" height="24.34"/><rect x="188.81" y="236.97" width="5.8" height="31.83"/><rect x="196.42" y="225.35" width="5.8" height="43.45"/><rect x="204.04" y="210.89" width="5.8" height="57.91"/><rect x="211.66" y="197.34" width="5.8" height="71.46"/><rect x="219.27" y="190.5" width="5.8" height="78.3"/><rect x="226.88" y="187.27" width="5.8" height="81.53"/><rect x="234.5" y="188.3" width="5.8" height="80.5"/><rect x="242.11" y="188.3" width="5.8" height="80.5"/><rect x="249.73" y="188.3" width="5.8" height="80.5"/><rect x="257.35" y="204.7" width="5.8" height="64.1"/><rect x="264.96" y="215.67" width="5.8" height="53.13"/><rect x="272.58" y="224.19" width="5.8" height="44.61"/><rect x="280.19" y="230.52" width="5.8" height="38.28"/><rect x="287.81" y="165.1" width="5.8" height="103.7"/></g>
<path class="o" d="M120.8 263.45V268.28H125.55V263.45zM128.41 263.45V268.28H133.16V263.45zM136.03 263.32V268.28H140.78V263.32zM143.64 263.06V268.28H148.39V263.06zM151.26 261.77V268.28H156.01V261.77zM158.88 259.44V268.28H163.62V259.44zM166.49 253.12V268.28H171.24V253.12zM174.1 246.65V268.28H178.85V246.65M181.72 244.46V268.28H186.47V244.46M189.33 236.97V268.28H194.08V236.97M196.95 225.35V268.28H201.7V225.35M204.56 210.89V268.28H209.31V210.89M212.18 197.34V268.28H216.93V197.34M219.79 190.5V268.28H224.54V190.5M227.41 187.27V268.28H232.16V187.27M235.03 188.3V268.28H239.78V188.3M242.64 188.3V268.28H247.39V188.3M250.25 188.83V268.28H255V188.83zM257.87 205.22V268.28H262.62V205.22zM265.49 216.2V268.28H270.24V216.2zM273.1 224.72V268.28H277.85V224.72zM280.72 231.04V268.28H285.47V231.04zM288.33 165.63V268.28H293.08V165.63z"/>
<g class="k"><rect x="158.35" y="256.72" width="5.8" height="2.19"/><rect x="165.97" y="250.01" width="5.8" height="2.58"/><rect x="257.35" y="193.21" width="5.8" height="11.49"/><rect x="264.96" y="196.05" width="5.8" height="19.62"/><rect x="272.58" y="198.24" width="5.8" height="25.95"/><rect x="280.19" y="200.95" width="5.8" height="29.56"/><rect x="287.81" y="100" width="5.8" height="65.1"/></g>
<rect class="l" x="60.98" y="49.3" width="246.02" height="224.7"/>
<path class="l" d="M69.9 274v6.5M107.94 274v6.5M145.97 274v6.5M184 274v6.5M222.04 274v6.5M260.08 274v6.5M298.11 274v6.5M60.98 265.8h-6.4M60.98 213.65h-6.4M60.98 161.5h-6.4M60.98 109.35h-6.4M60.98 57.2h-6.4"/>
<text class="s" x="69.9" y="294" text-anchor="middle">0.70</text>
<text class="s" x="145.97" y="294" text-anchor="middle">0.80</text>
<text class="s" x="222.04" y="294" text-anchor="middle">0.90</text>
<text class="s" x="298.11" y="294" text-anchor="middle">1.00</text>
<text class="s" transform="translate(48.2,265.8) rotate(-90)" text-anchor="middle">0</text>
<text class="s" transform="translate(48.2,213.65) rotate(-90)" text-anchor="middle">5</text>
<text class="s" transform="translate(48.2,161.5) rotate(-90)" text-anchor="middle">10</text>
<text class="s" transform="translate(48.2,109.35) rotate(-90)" text-anchor="middle">15</text>
<text class="s" transform="translate(48.2,57.2) rotate(-90)" text-anchor="middle">20</text>
<text class="s" x="184.3" y="314.7" text-anchor="middle">Pixel values</text>
<text class="s" transform="translate(26.2,161.9) rotate(-90)" text-anchor="middle">Frequency [%]</text>
</g>
<g transform="translate(348.5,671.2)">
<g class="a"><rect x="113.36" y="263.73" width="4.4" height="4.27"/><rect x="120.97" y="263.73" width="4.4" height="4.27"/><rect x="128.59" y="262.83" width="4.4" height="5.17"/><rect x="136.21" y="262.83" width="4.4" height="5.17"/><rect x="143.82" y="261.54" width="4.4" height="6.46"/><rect x="151.44" y="257.92" width="4.4" height="10.08"/><rect x="159.05" y="252.12" width="4.4" height="15.88"/><rect x="166.67" y="243.98" width="4.4" height="24.02"/><rect x="174.28" y="233.78" width="4.4" height="34.22"/><rect x="181.9" y="223.07" width="4.4" height="44.93"/><rect x="189.51" y="211.84" width="4.4" height="56.16"/><rect x="197.12" y="203.7" width="4.4" height="64.3"/><rect x="204.74" y="197.25" width="4.4" height="70.75"/><rect x="212.36" y="194.02" width="4.4" height="73.98"/><rect x="219.97" y="194.41" width="4.4" height="73.59"/><rect x="227.59" y="196.22" width="4.4" height="71.78"/><rect x="235.2" y="196.6" width="4.4" height="71.4"/><rect x="242.81" y="197.25" width="4.4" height="70.75"/><rect x="250.43" y="201.12" width="4.4" height="66.88"/><rect x="258.05" y="208.22" width="4.4" height="59.78"/><rect x="265.66" y="211.06" width="4.4" height="56.94"/><rect x="273.28" y="214.68" width="4.4" height="53.32"/><rect x="280.89" y="216.23" width="4.4" height="51.77"/><rect x="288.51" y="117.4" width="4.4" height="150.6"/></g>
<g class="g"><rect x="127.89" y="262.83" width="5.8" height="5.97"/><rect x="135.5" y="262.83" width="5.8" height="5.97"/><rect x="143.12" y="262.44" width="5.8" height="6.36"/><rect x="150.73" y="261.15" width="5.8" height="7.65"/><rect x="158.35" y="258.18" width="5.8" height="10.62"/><rect x="165.97" y="251.47" width="5.8" height="17.33"/><rect x="173.58" y="241.4" width="5.8" height="27.4"/><rect x="181.19" y="226.94" width="5.8" height="41.86"/><rect x="188.81" y="211.84" width="5.8" height="56.96"/><rect x="196.42" y="203.7" width="5.8" height="65.1"/><rect x="204.04" y="197.25" width="5.8" height="71.55"/><rect x="211.66" y="194.02" width="5.8" height="74.78"/><rect x="219.27" y="194.41" width="5.8" height="74.39"/><rect x="226.88" y="196.22" width="5.8" height="72.58"/><rect x="234.5" y="196.6" width="5.8" height="72.2"/><rect x="242.11" y="197.25" width="5.8" height="71.55"/><rect x="249.73" y="201.12" width="5.8" height="67.68"/><rect x="257.35" y="208.22" width="5.8" height="60.58"/><rect x="264.96" y="218.16" width="5.8" height="50.64"/><rect x="272.58" y="228.88" width="5.8" height="39.92"/><rect x="280.19" y="235.98" width="5.8" height="32.82"/><rect x="287.81" y="191.7" width="5.8" height="77.1"/></g>
<path class="o" d="M128.41 263.36V268.28H133.16V263.36zM136.03 263.36V268.28H140.78V263.36zM143.64 262.44V268.28H148.39V262.44M151.26 261.15V268.28H156.01V261.15M158.88 258.18V268.28H163.62V258.18M166.49 251.47V268.28H171.24V251.47M174.1 241.4V268.28H178.85V241.4M181.72 226.94V268.28H186.47V226.94M189.33 212.36V268.28H194.08V212.36zM196.95 204.23V268.28H201.7V204.23zM204.56 197.77V268.28H209.31V197.77zM212.18 194.55V268.28H216.93V194.55zM219.79 194.93V268.28H224.54V194.93zM227.41 196.74V268.28H232.16V196.74zM235.03 197.13V268.28H239.78V197.13zM242.64 197.77V268.28H247.39V197.77zM250.25 201.65V268.28H255V201.65zM257.87 208.75V268.28H262.62V208.75zM265.49 218.16V268.28H270.24V218.16M273.1 228.88V268.28H277.85V228.88M280.72 235.98V268.28H285.47V235.98M288.33 191.7V268.28H293.08V191.7"/>
<g class="k"><rect x="188.81" y="206.54" width="5.8" height="5.29"/><rect x="196.42" y="187.31" width="5.8" height="16.4"/><rect x="204.04" y="174.66" width="5.8" height="22.59"/><rect x="211.66" y="171.04" width="5.8" height="22.98"/><rect x="219.27" y="175.3" width="5.8" height="19.11"/><rect x="226.88" y="178.92" width="5.8" height="17.3"/><rect x="234.5" y="180.47" width="5.8" height="16.14"/><rect x="242.11" y="180.21" width="5.8" height="17.04"/><rect x="249.73" y="186.92" width="5.8" height="14.2"/><rect x="257.35" y="204.35" width="5.8" height="3.87"/></g>
<rect class="l" x="60.98" y="49.3" width="246.02" height="224.7"/>
<path class="l" d="M69.9 274v6.5M107.94 274v6.5M145.97 274v6.5M184 274v6.5M222.04 274v6.5M260.08 274v6.5M298.11 274v6.5M60.98 265.8h-6.4M60.98 213.65h-6.4M60.98 161.5h-6.4M60.98 109.35h-6.4M60.98 57.2h-6.4"/>
<text class="s" x="69.9" y="294" text-anchor="middle">0.70</text>
<text class="s" x="145.97" y="294" text-anchor="middle">0.80</text>
<text class="s" x="222.04" y="294" text-anchor="middle">0.90</text>
<text class="s" x="298.11" y="294" text-anchor="middle">1.00</text>
<text class="s" transform="translate(48.2,265.8) rotate(-90)" text-anchor="middle">0</text>
<text class="s" transform="translate(48.2,213.65) rotate(-90)" text-anchor="middle">5</text>
<text class="s" transform="translate(48.2,161.5) rotate(-90)" text-anchor="middle">10</text>
<text class="s" transform="translate(48.2,109.35) rotate(-90)" text-anchor="middle">15</text>
<text class="s" transform="translate(48.2,57.2) rotate(-90)" text-anchor="middle">20</text>
<text class="s" x="184.3" y="314.7" text-anchor="middle">Pixel values</text>
<text class="s" transform="translate(26.2,161.9) rotate(-90)" text-anchor="middle">Frequency [%]</text>
</g>
<text class="t" transform="translate(150,31.5) scale(1,1.035)">D3</text>
<text class="t" transform="translate(498.3,31.4) scale(1,1.035)">D4</text>
<text class="t" transform="translate(846.6,31.4) scale(1,1.035)">D5</text>
<text class="t" transform="translate(149.6,365.1) scale(1,1.035)">D6</text>
<text class="t" transform="translate(498.3,365.1) scale(1,1.035)">D7</text>
<text class="t" transform="translate(839.3,365.1) scale(1,1.035)">D10</text>
<text class="t" transform="translate(142.4,700.1) scale(1,1.035)">D14</text>
<text class="t" transform="translate(490.8,700.1) scale(1,1.035)">D17</text>
</svg></body></html>
